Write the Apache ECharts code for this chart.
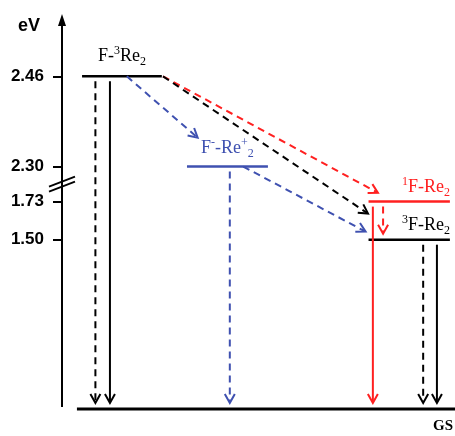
<!DOCTYPE html>
<html>
<head>
<meta charset="utf-8">
<title>Energy levels</title>
<script src="https://cdn.jsdelivr.net/npm/echarts@6/dist/echarts.min.js"></script>
<style>html,body{margin:0;padding:0;background:#fff;}</style>
</head>
<body>
<div id="chart" style="width:455px;height:436px;"></div>
<script>
// levels: energy in eV, and where each one sits across the diagram (0-100)
var levelNames = ['F-3Re2', 'F--Re+2', '1F-Re2', '3F-Re2', 'GS'];
var levelEnergy = [2.46, 2.30, 1.73, 1.50, 0];
var levelSpan = [[5.1, 25.4], [31.8, 52.4], [78, 98.7], [78, 98.7], [3.8, 100]];
var levelText = [
    '{main|F-}{sup|3}{main|Re}{sub|2}',
    '{main|F}{sup|-}{main|-Re}{sup|+}{sub|2}',
    '{sup|1}{main|F-Re}{sub|2}',
    '{sup|3}{main|F-Re}{sub|2}',
    '{gs|GS}'
];
// ticks on the energy axis
var tickValues = [1.50, 1.73, 2.30, 2.46];
var axisTop = 2.56;

// transitions: from level, to level, x at start, x aimed at, share of the way drawn
var transitions = [
    [0, 4, 8.5, 8.5, 1],
    [0, 4, 12.2, 12.2, 1],
    [0, 1, 16.5, 43, 0.68],
    [0, 2, 25.7, 84.5, 0.93],
    [0, 3, 25.7, 87.8, 0.84],
    [1, 4, 42.7, 42.7, 1],
    [1, 3, 46.1, 81.1, 0.89],
    [2, 4, 79.1, 79.1, 1],
    [2, 3, 81.7, 81.7, 1],
    [3, 4, 91.9, 91.9, 1],
    [3, 4, 95.4, 95.4, 1]
];
var transDashed = [true, false, true, true, true, true, true, false, true, true, false];

var BLACK = '#000', BLUE = '#3f51b0', RED = '#ff2020';
var levelColor = [BLACK, BLUE, RED, BLACK, BLACK];
var transColor = [BLACK, BLACK, BLUE, RED, BLACK, BLUE, BLUE, RED, RED, BLACK, BLACK];
var labelAlign = ['center', 'center', 'right', 'right', 'right'];
var labelDy = [-9, -7, -3, -3, 8];

var serif = 'Liberation Serif';
var rich = {
    main: {fontFamily: serif, fontSize: 18, lineHeight: 23},
    sup: {fontFamily: serif, fontSize: 12, lineHeight: 12, verticalAlign: 'top'},
    sub: {fontFamily: serif, fontSize: 12, lineHeight: 12, verticalAlign: 'bottom'},
    gs: {fontFamily: serif, fontSize: 15, fontWeight: 'bold', lineHeight: 18}
};

var chart = echarts.init(document.getElementById('chart'));

function renderLevel(params, api) {
    var i = params.dataIndex;
    var e = levelEnergy[i];
    var p0 = api.coord([levelSpan[i][0], e]);
    var p1 = api.coord([levelSpan[i][1], e]);
    var tx = labelAlign[i] === 'center' ? (p0[0] + p1[0]) / 2 : p1[0] - (i === 4 ? 2 : 0);
    return {
        type: 'group',
        children: [{
            type: 'line',
            shape: {x1: p0[0], y1: p0[1], x2: p1[0], y2: p1[1]},
            style: {stroke: levelColor[i], lineWidth: i === 4 ? 3 : 2.5}
        }, {
            type: 'text',
            x: tx,
            y: p0[1] + labelDy[i],
            style: {
                text: levelText[i],
                rich: rich,
                fill: levelColor[i],
                align: labelAlign[i],
                verticalAlign: labelDy[i] < 0 ? 'bottom' : 'top'
            }
        }]
    };
}

function renderArrow(params, api) {
    var i = params.dataIndex;
    var t = transitions[i];
    var a = api.coord([t[2], levelEnergy[t[0]]]);
    var b = api.coord([t[3], levelEnergy[t[1]]]);
    var dx = b[0] - a[0], dy = b[1] - a[1];
    var len = Math.sqrt(dx * dx + dy * dy);
    var ux = dx / len, uy = dy / len;
    var s0 = 0, s1 = len * t[4];
    if (t[2] === t[3]) { s0 = 5; s1 = len - 6; }
    var x0 = a[0] + ux * s0, y0 = a[1] + uy * s0;
    var x1 = a[0] + ux * s1, y1 = a[1] + uy * s1;
    var L = 9, W = 5;
    var color = transColor[i];
    return {
        type: 'group',
        children: [{
            type: 'line',
            shape: {x1: x0, y1: y0, x2: x1 - ux, y2: y1 - uy},
            style: {stroke: color, lineWidth: 2, lineDash: transDashed[i] ? [7, 5] : null}
        }, {
            type: 'polyline',
            shape: {points: [
                [x1 - ux * L - uy * W, y1 - uy * L + ux * W],
                [x1, y1],
                [x1 - ux * L + uy * W, y1 - uy * L - ux * W]
            ]},
            style: {stroke: color, lineWidth: 2, fill: null}
        }]
    };
}

// the energy axis line itself, its arrow and the two break slashes
function renderAxis(params, api) {
    var bottom = api.coord([0, 0]);
    var top = api.coord([0, axisTop]);
    var lo = api.coord([0, 1.73]);
    var hi = api.coord([0, 2.30]);
    var cx = bottom[0], cy = (lo[1] + hi[1]) / 2;
    var kids = [{
        type: 'line',
        shape: {x1: cx, y1: bottom[1] - 2, x2: cx, y2: top[1] + 2},
        style: {stroke: BLACK, lineWidth: 2}
    }, {
        type: 'polygon',
        shape: {points: [[cx, top[1] - 6], [cx - 4, top[1] + 6], [cx + 4, top[1] + 6]]},
        style: {fill: BLACK}
    }];
    [-2.5, 2.5].forEach(function (o) {
        kids.push({
            type: 'line',
            shape: {x1: cx - 13, y1: cy + 5 + o, x2: cx + 13, y2: cy - 5 + o},
            style: {stroke: BLACK, lineWidth: 1.8}
        });
    });
    return {type: 'group', children: kids};
}

chart.setOption({
    animation: false,
    grid: {left: 62, right: 0, top: 20, bottom: 27},
    xAxis: {type: 'value', min: 0, max: 100, show: false},
    yAxis: {
        type: 'value',
        min: 0,
        max: axisTop,
        name: 'eV',
        nameLocation: 'end',
        nameGap: -6,
        nameTextStyle: {
            fontFamily: 'Liberation Sans', fontWeight: 'bold', fontSize: 18, color: BLACK,
            align: 'right', verticalAlign: 'middle', padding: [0, 22, 0, 0]
        },
        breaks: [
            {start: 0.01, end: 1.49, gap: 0.2804},
            {start: 1.51, end: 1.72, gap: 0.0476},
            {start: 1.74, end: 2.29, gap: 0.0422}
        ],
        breakArea: {show: false},
        axisLine: {show: false},
        axisTick: {
            show: true, length: 9, customValues: tickValues,
            lineStyle: {color: BLACK, width: 2}
        },
        axisLabel: {
            customValues: tickValues,
            margin: 18,
            fontFamily: 'Liberation Sans', fontWeight: 'bold', fontSize: 17, color: BLACK,
            formatter: function (v) { return v.toFixed(2); }
        },
        splitLine: {show: false}
    },
    series: [{
        type: 'custom',
        name: 'levels',
        clip: false,
        renderItem: renderLevel,
        data: levelEnergy.map(function (e, i) { return [levelSpan[i][0], e]; })
    }, {
        type: 'custom',
        name: 'transitions',
        clip: false,
        renderItem: renderArrow,
        data: transitions.map(function (t) { return [t[2], levelEnergy[t[0]]]; })
    }, {
        type: 'custom',
        name: 'axis',
        clip: false,
        renderItem: renderAxis,
        data: [[0, 0]]
    }]
});
</script>
</body>
</html>
